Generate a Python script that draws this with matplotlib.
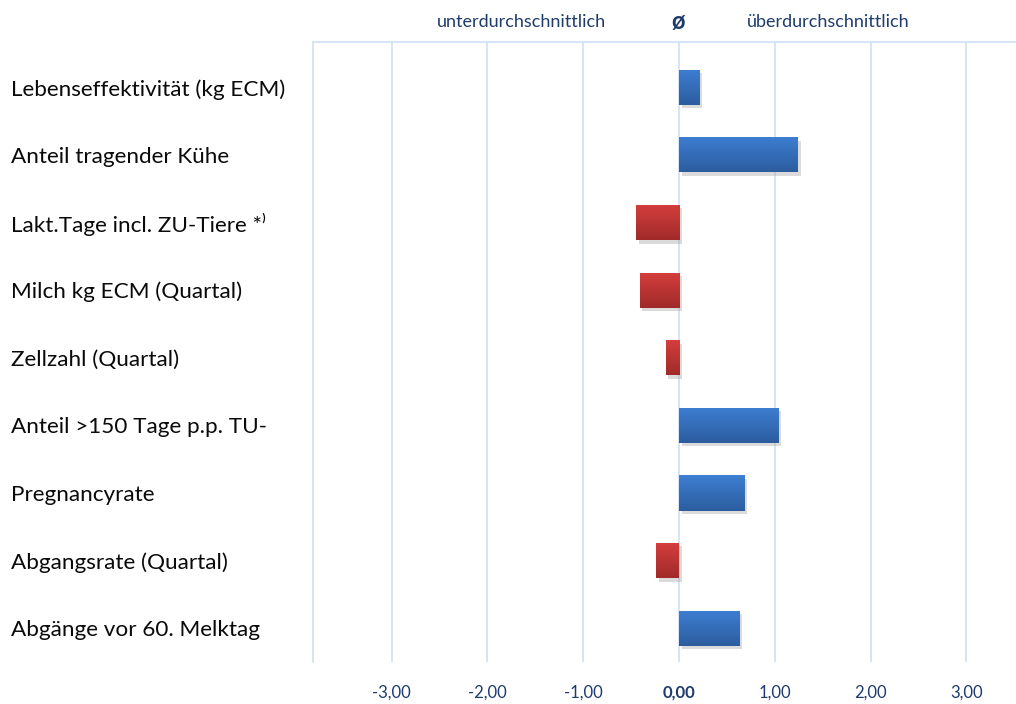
import numpy as np
import matplotlib.pyplot as plt
import matplotlib.transforms as mtransforms
from matplotlib.colors import to_rgb
from matplotlib.patheffects import SimplePatchShadow, Normal

plt.rcParams['font.family'] = ['Lato', 'DejaVu Sans']

categories = ['Lebenseffektivität (kg ECM)', 'Anteil tragender Kühe',
              'Lakt.Tage incl. ZU-Tiere *⁾', 'Milch kg ECM (Quartal)',
              'Zellzahl (Quartal)', 'Anteil >150 Tage p.p. TU-',
              'Pregnancyrate', 'Abgangsrate (Quartal)', 'Abgänge vor 60. Melktag']
values = [0.21, 1.24, -0.45, -0.41, -0.14, 1.04, 0.68, -0.24, 0.63]
xticks = [-3, -2, -1, 0, 1, 2, 3]
xticklabels = ['-3,00', '-2,00', '-1,00', '0,00', '1,00', '2,00', '3,00']

grid_col = '#d3e2f5'
text_blue = '#1f3b6e'

fig = plt.figure(figsize=(10.16, 7.04), dpi=100)
ax = fig.add_axes([313/1016, 1 - 662/704, 1 - 313/1016, (662 - 42)/704])

y = np.arange(len(categories))
bars = ax.barh(y, values, height=0.52, color=['#3a76c4' if v > 0 else '#c23634' for v in values],
               zorder=3)
for b, v in zip(bars, values):
    b.set_path_effects([SimplePatchShadow(offset=(2, -2.5), shadow_rgbFace='#999999', alpha=0.35), Normal()])
    top, bot = ('#3d7fd2', '#2c5c9e') if v > 0 else ('#d43f3d', '#a02a29')
    c1, c2 = np.array(to_rgb(top)), np.array(to_rgb(bot))
    t = np.linspace(0, 1, 50)[:, None]
    grad = (c1 * (1 - t) + c2 * t)[:, None, :]
    x0, x1 = sorted([0, v])
    y0 = b.get_y()
    im = ax.imshow(grad, extent=[x0, x1, y0 + b.get_height(), y0], aspect='auto',
                   zorder=4, interpolation='bilinear')
    im.set_clip_path(b)

ax.set_xlim((313 - 679) / 95.8, (1016 - 679) / 95.8)
ax.set_ylim(8.5, -0.67)

ax.set_xticks(xticks)
ax.set_xticklabels(xticklabels, color=text_blue, fontsize=12)
ax.get_xticklabels()[3].set_fontweight('bold')
ax.tick_params(axis='x', length=0, pad=16)
ax.set_yticks([])
ax.grid(axis='x', color=grid_col, linewidth=1.3, zorder=0)

for s in ['right', 'bottom']:
    ax.spines[s].set_visible(False)
for s in ['left', 'top']:
    ax.spines[s].set_color(grid_col)
    ax.spines[s].set_linewidth(1.3)

trans = mtransforms.blended_transform_factory(fig.transFigure, ax.transData)
for yi, lab in zip(y, categories):
    ax.text(11/1016, yi + 0.03, lab, transform=trans, ha='left', va='center',
            fontsize=16.2, color='#0a0a0a', clip_on=False)

fig.text(521/1016, 1 - 22/704, 'unterdurchschnittlich', ha='center', va='center',
         color=text_blue, fontsize=13)
fig.text(678/1016, 1 - 22/704, 'ø', ha='center', va='center',
         color=text_blue, fontsize=17, fontweight='bold')
fig.text(828/1016, 1 - 22/704, 'überdurchschnittlich', ha='center', va='center',
         color=text_blue, fontsize=13)

fig.savefig('out.png', dpi=100)
